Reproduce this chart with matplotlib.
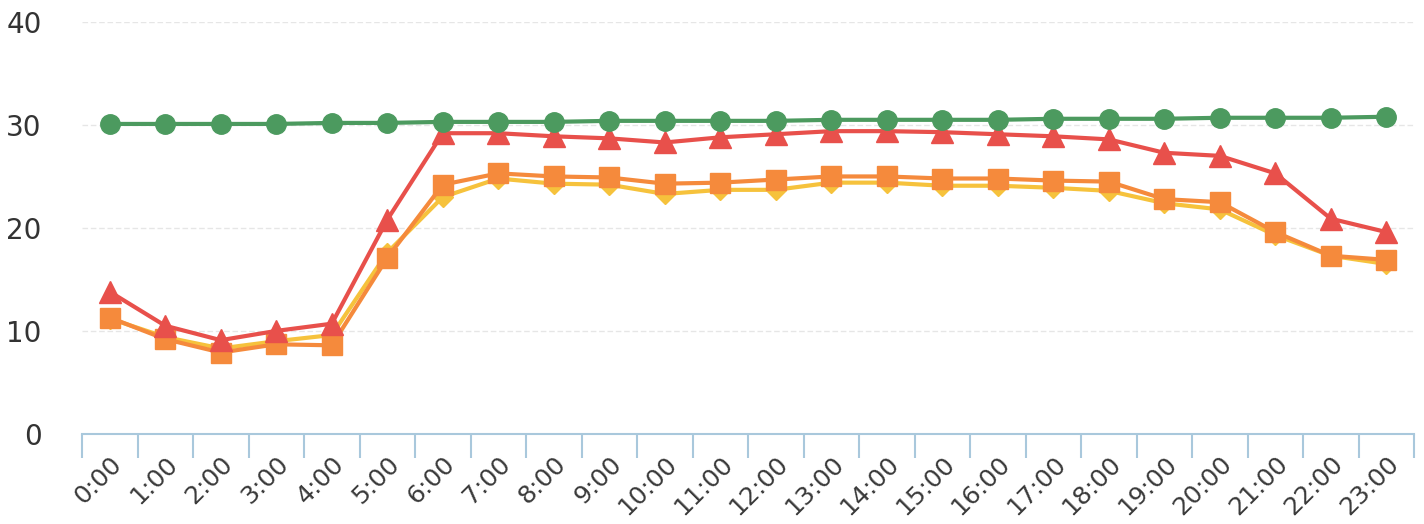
import numpy as np
import matplotlib.pyplot as plt
from matplotlib.ticker import FixedLocator, NullFormatter

plt.rcParams['font.family'] = ['DejaVu Sans']

hours = ['%d:00' % h for h in range(24)]

green = [30.1, 30.1, 30.1, 30.1, 30.2, 30.2, 30.3, 30.3, 30.3, 30.4, 30.4, 30.4,
         30.4, 30.5, 30.5, 30.5, 30.5, 30.6, 30.6, 30.6, 30.7, 30.7, 30.7, 30.8]
red = [13.8, 10.5, 9.1, 10.0, 10.7, 20.8, 29.2, 29.2, 28.9, 28.7, 28.3, 28.8,
       29.1, 29.4, 29.4, 29.3, 29.1, 28.9, 28.6, 27.3, 27.0, 25.3, 20.9, 19.6]
orange = [11.3, 9.2, 7.9, 8.7, 8.6, 17.1, 24.2, 25.3, 25.0, 24.9, 24.3, 24.4,
          24.7, 25.0, 25.0, 24.8, 24.8, 24.6, 24.5, 22.8, 22.5, 19.6, 17.3, 16.9]
yellow = [11.2, 9.4, 8.3, 9.0, 9.6, 17.6, 23.0, 24.8, 24.3, 24.2, 23.3, 23.7,
          23.7, 24.4, 24.4, 24.1, 24.1, 23.9, 23.6, 22.4, 21.8, 19.3, 17.3, 16.5]

fig = plt.figure(figsize=(14.24, 5.24), dpi=100)
ax = fig.add_axes([0.0576, 0.172, 0.9354, 0.786])

x = np.arange(len(hours))
ax.plot(x, yellow, color='#f6c23c', lw=3, marker='D', ms=10, zorder=3)
ax.plot(x, orange, color='#f58a3c', lw=3, marker='s', ms=14, zorder=4)
ax.plot(x, red, color='#e8504b', lw=3, marker='^', ms=16, zorder=5)
ax.plot(x, green, color='#4c9a5f', lw=3, marker='o', ms=14, zorder=6)

ax.set_xlim(-0.5, 23.5)
ax.set_ylim(0, 40)
ax.set_yticks([0, 10, 20, 30, 40])
ax.grid(axis='y', color='#e6e6e6', lw=1, ls=(0, (4, 2)))
ax.set_axisbelow(True)

for s in ['top', 'right', 'left']:
    ax.spines[s].set_visible(False)
ax.spines['bottom'].set_color('#a9c8dc')
ax.spines['bottom'].set_linewidth(1.5)

ax.set_xticks(x)
ax.set_xticklabels(hours, rotation=45, ha='right', rotation_mode='anchor',
                   fontsize=18, color='#3a3a3a')
ax.tick_params(axis='x', which='major', length=0, pad=13)
ax.xaxis.set_minor_locator(FixedLocator(np.arange(-0.5, 24, 1)))
ax.xaxis.set_minor_formatter(NullFormatter())
ax.tick_params(axis='x', which='minor', length=17, width=1.5, color='#a9c8dc')
ax.tick_params(axis='y', length=0, labelsize=20, labelcolor='#333333', pad=29)

fig.savefig('out.png', dpi=100)
